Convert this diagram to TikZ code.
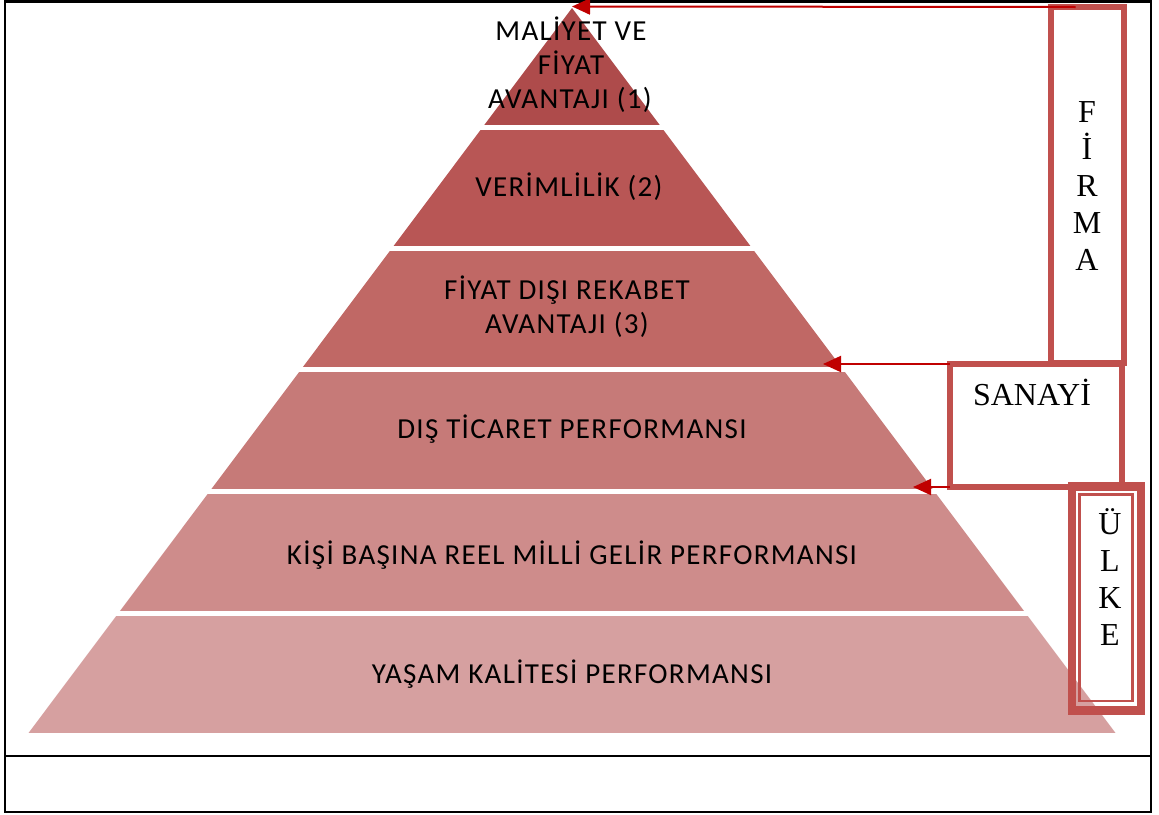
\documentclass[tikz,border=0pt]{standalone}
\usepackage{fontspec}
\setmainfont{Liberation Serif}
\newfontfamily\calib[LetterSpace=4.5]{Carlito}
\usetikzlibrary{arrows.meta}
\definecolor{layA}{HTML}{AE4B4B}
\definecolor{layB}{HTML}{B85655}
\definecolor{layC}{HTML}{C06865}
\definecolor{layD}{HTML}{C67A78}
\definecolor{layE}{HTML}{CE8C8B}
\definecolor{layF}{HTML}{D6A0A0}
\definecolor{boxred}{HTML}{C0504D}
\definecolor{arrred}{HTML}{C00000}
\begin{document}
\begin{tikzpicture}[x=1pt,y=-1pt,
  layertext/.style={font=\calib\fontsize{29}{34}\selectfont, align=center, text=black, inner sep=0pt},
  sidebox/.style={draw=boxred, line width=6pt, inner sep=0pt, outer sep=0pt},
  letters/.style={font=\fontsize{32}{37}\selectfont, align=center, inner sep=0pt},
  arr/.style={draw=arrred, line width=2pt, -{Triangle[length=18pt,width=16pt]}}]
\useasboundingbox (0,0) rectangle (1159,814);
\fill[white] (0,0) rectangle (1159,814);

% outer frame with a bottom row
\draw[black, line width=2.5pt] (5,1.5) rectangle (1151,812);
\draw[black, line width=2.5pt] (5,756) -- (1151,756);

% pyramid: six bands clipped to a triangle
\coordinate (apex) at (572,8);
\coordinate (baseL) at (28.5,733);
\coordinate (baseR) at (1115.5,733);
\begin{scope}
  \clip (apex) -- (baseR) -- (baseL) -- cycle;
  \fill[layA] (0,0)   rectangle (1159,125);
  \fill[layB] (0,130) rectangle (1159,246);
  \fill[layC] (0,251) rectangle (1159,367);
  \fill[layD] (0,372) rectangle (1159,489);
  \fill[layE] (0,494) rectangle (1159,611);
  \fill[layF] (0,616) rectangle (1159,733);
\end{scope}

% layer labels
\node[layertext, anchor=base] (t1a) at (571,40) {MALİYET VE};
\node[layertext, anchor=base] (t1b) at (571,74) {FİYAT};
\node[layertext, anchor=base] (t1c) at (570,108) {AVANTAJI (1)};
\node[layertext, anchor=base] (t2) at (569,196) {VERİMLİLİK (2)};
\node[layertext, anchor=base] (t3a) at (567,299) {FİYAT DIŞI REKABET};
\node[layertext, anchor=base] (t3b) at (567,333) {AVANTAJI (3)};
\node[layertext, anchor=base] (t4) at (572,438) {DIŞ TİCARET PERFORMANSI};
\node[layertext, anchor=base] (t5) at (572,564) {KİŞİ BAŞINA REEL MİLLİ GELİR PERFORMANSI};
\node[layertext, anchor=base] (t6) at (572,683) {YAŞAM KALİTESİ PERFORMANSI};

% level boxes
\node[sidebox, minimum width=73pt, minimum height=356pt] (firma) at (1087.5,185) {};
\node[letters] (firmatxt) at (1087,186) {F\\İ\\R\\M\\A};

\node[sidebox, minimum width=172pt, minimum height=123pt] (sanayi) at (1036,425.5) {};
\node[letters, anchor=base] (sanayitxt) at (1032,405) {SANAYİ};

\node[draw=boxred, line width=8.5pt, inner sep=0pt, outer sep=0pt, minimum width=69pt, minimum height=224pt] (ulke) at (1106.5,598.5) {};
\node[draw=boxred, line width=2.3pt, inner sep=0pt, outer sep=0pt, minimum width=53pt, minimum height=206.5pt] (ulkein) at (1106,597.75) {};
\node[letters] (ulketxt) at (1110,577) {Ü\\L\\K\\E};

% arrows from the level boxes to the pyramid
\coordinate (tipA) at (572,6.5);
\coordinate (tipB) at (823,364);
\coordinate (tipC) at (913,487);
\draw[arr] ([xshift=-12pt]firma.north) -- (tipA);
\draw[arr] (sanayi.north west) -- (tipB);
\draw[arr] (sanayi.south west) -- (tipC);
\end{tikzpicture}
\end{document}
